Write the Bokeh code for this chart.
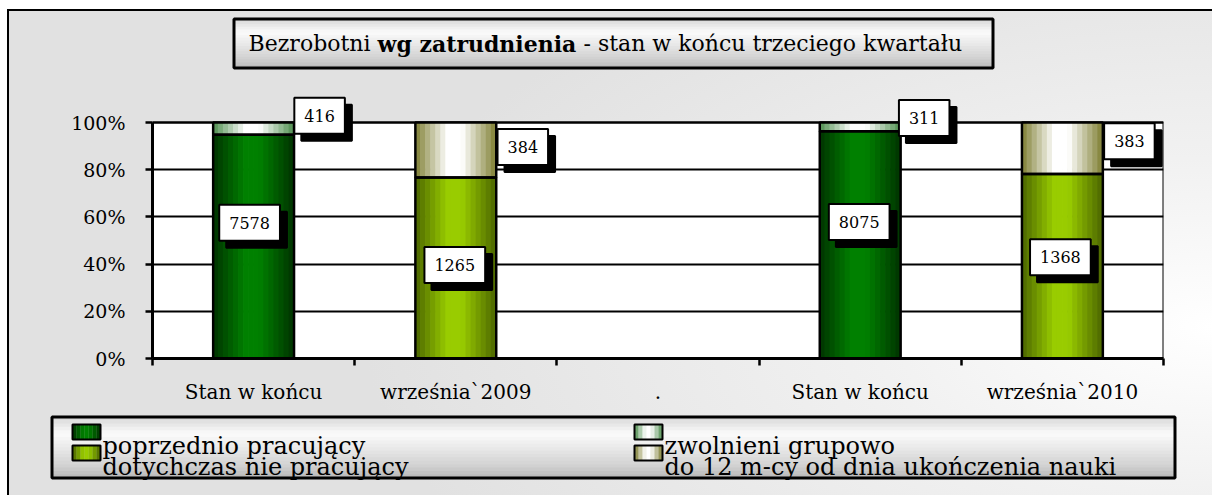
from bokeh.plotting import figure
from bokeh.models import FixedTicker, BoxAnnotation, Label, ColumnDataSource, Range1d
from bokeh.core.properties import value
from bokeh.embed import file_html
from bokeh.resources import INLINE

# ---------------- data ----------------
categories = ["Stan w końcu", "września`2009", ".", "Stan w końcu", "września`2010"]
series_names = ["poprzednio pracujący", "dotychczas nie pracujący",
                "zwolnieni grupowo", "do 12 m-cy od dnia ukończenia nauki"]
poprzednio = [7578, 0, 0, 8075, 0]
dotychczas = [0, 1265, 0, 0, 1368]
zwolnieni = [416, 0, 0, 311, 0]
do12 = [0, 384, 0, 0, 383]
y_ticks = [0, 20, 40, 60, 80, 100]
title_parts = ["Bezrobotni", "wg zatrudnienia", "- stan w końcu trzeciego kwartału"]

# ---------------- style ----------------
FONT = "DejaVu Serif"
W = 1212
H_TITLE, H_MAIN, H_LEG = 88, 324, 83
FL, FT, FR, FB = 152, 122, 1163, 358          # plot-area edges (page px)
FTOP = 90                                       # frame top (page px)
EDGE = ["#003300", "#4c6600", "#4f8f4f", "#7f7f33"]
CENTER = ["#008000", "#99cc00", "#ffffff", "#ffffff"]
BW = 0.4
NSTRIP = 16
LABEL_OFFSETS = {0: {0: (-4, 24), 3: (-1, 23)},
                 1: {1: (-1, 3), 4: (-2, 9)},
                 2: {0: (66, 13), 3: (64, 9)},
                 3: {1: (67, 3), 4: (67, 7)}}
STOPS = [(0.0, "#d6d6d6"), (0.28, "#fbfbfb"), (0.5, "#eaeaea"), (0.8, "#d2d2d2"), (1.0, "#b9b9b9")]
BG_CSS = ("linear-gradient(#000,#000) 7px 9px / 2px 100% no-repeat fixed, "
          "linear-gradient(#000,#000) 7px 9px / 100% 2px no-repeat fixed, "
          "linear-gradient(#fff,#fff) 0 0 / 7px 100% no-repeat fixed, "
          "linear-gradient(#fff,#fff) 0 0 / 100% 9px no-repeat fixed, "
          "radial-gradient(ellipse 70% 85% at 100% 66%, #ffffff 0%, #f1f1f1 40%, #e1e1e1 100%) fixed")


def hex2rgb(h):
    h = h.lstrip("#")
    return tuple(int(h[i:i + 2], 16) for i in (0, 2, 4))


def mix(c1, c2, t):
    a, b = hex2rgb(c1), hex2rgb(c2)
    return "#%02x%02x%02x" % tuple(int(round(a[i] + (b[i] - a[i]) * t)) for i in range(3))


def profile(t):
    if t < 0.40:
        return t / 0.40
    if t < 0.58:
        return 1.0
    return max(0.0, (1.0 - t) / 0.42)


def stop_color(f):
    for a in range(len(STOPS) - 1):
        if STOPS[a][0] <= f <= STOPS[a + 1][0]:
            tt = (f - STOPS[a][0]) / (STOPS[a + 1][0] - STOPS[a][0])
            return mix(STOPS[a][1], STOPS[a + 1][1], tt)
    return STOPS[-1][1]


def pixel_fig(height):
    f = figure(width=W, height=height, output_backend="svg", toolbar_location=None,
               x_range=Range1d(0, W), y_range=Range1d(height, 0),
               x_axis_type=None, y_axis_type=None,
               min_border=0, min_border_left=0, min_border_right=0,
               min_border_top=0, min_border_bottom=0)
    f.title.visible = False
    f.border_fill_color = None
    f.background_fill_color = None
    f.outline_line_color = None
    f.grid.visible = False
    f.styles = {"background": BG_CSS}
    return f


def grad_box(f, x0, x1, y0, y1, nb=18):
    hgt = (y1 - y0) / nb
    f.quad(left=[x0] * nb, right=[x1] * nb,
           top=[y0 + b * hgt - 0.3 for b in range(nb)],
           bottom=[y0 + (b + 1) * hgt + 0.3 for b in range(nb)],
           fill_color=[stop_color((b + 0.5) / nb) for b in range(nb)], line_color=None)
    f.quad(left=[x0], right=[x1], top=[y0], bottom=[y1], fill_color=None,
           line_color="black", line_width=3)


# ================= title figure =================
tf = pixel_fig(H_TITLE)
grad_box(tf, 233.5, 992.5, 18.5, 67.5)
TY = 43
tf.text(x=[370], y=[TY], text=[title_parts[0]], text_font=value(FONT), text_font_size="22px",
        text_align="right", text_baseline="middle", text_color="black")
tf.text(x=[377], y=[TY], text=[title_parts[1]], text_font=value(FONT), text_font_size="22px",
        text_font_style="bold", text_align="left", text_baseline="middle", text_color="black")
tf.text(x=[583], y=[TY], text=[title_parts[2]], text_font=value(FONT), text_font_size="22px",
        text_align="left", text_baseline="middle", text_color="black")

# ================= main figure =================
y_top = 100.0 * (FB - FTOP) / (FB - FT)
p = figure(width=W, height=H_MAIN, output_backend="svg", toolbar_location=None,
           x_range=Range1d(0.5, len(categories) + 0.5), y_range=Range1d(0, y_top),
           min_border_left=FL, min_border_top=FTOP - H_TITLE,
           min_border_right=W - FR, min_border_bottom=H_TITLE + H_MAIN - FB)
p.title.visible = False
p.border_fill_color = None
p.background_fill_color = None
p.outline_line_color = None
p.styles = {"background": BG_CSS}

# white plot area with black frame, below the grid
p.add_layout(BoxAnnotation(left=0.5, right=len(categories) + 0.5, bottom=0, top=100,
                           fill_color="white", fill_alpha=1, line_color="black",
                           line_width=2, line_alpha=1, level="image"))

p.xaxis.ticker = FixedTicker(ticks=list(range(1, len(categories) + 1)),
                             minor_ticks=[i + 0.5 for i in range(len(categories) + 1)])
p.xaxis.major_label_overrides = {i + 1: c for i, c in enumerate(categories)}
p.xaxis.major_tick_line_color = None
p.xaxis.major_tick_out = 0
p.xaxis.major_tick_in = 0
p.xaxis.minor_tick_out = 7
p.xaxis.minor_tick_in = 0
p.xaxis.minor_tick_line_width = 2.5
p.xaxis.minor_tick_line_color = "black"
p.xaxis.axis_line_width = 3
p.xaxis.axis_line_color = "black"
p.xaxis.major_label_standoff = 14
p.xaxis.major_label_text_font = FONT
p.xaxis.major_label_text_font_size = "20px"
p.xaxis.major_label_text_color = "black"

p.yaxis.ticker = FixedTicker(ticks=y_ticks, minor_ticks=[])
p.yaxis.bounds = (0, 100)
p.yaxis.major_label_overrides = {t: "%d%%" % t for t in y_ticks}
p.yaxis.major_tick_out = 7
p.yaxis.major_tick_in = 0
p.yaxis.major_tick_line_width = 2.5
p.yaxis.major_tick_line_color = "black"
p.yaxis.axis_line_width = 3
p.yaxis.axis_line_color = "black"
p.yaxis.major_label_standoff = 20
p.yaxis.major_label_text_font = FONT
p.yaxis.major_label_text_font_size = "19px"
p.yaxis.major_label_text_color = "black"

p.xgrid.visible = False
p.ygrid.ticker = FixedTicker(ticks=y_ticks)
p.ygrid.grid_line_color = "black"
p.ygrid.grid_line_width = 2
p.ygrid.grid_line_alpha = 1

# stacked percentages
stack = [poprzednio, dotychczas, zwolnieni, do12]
n = len(categories)
totals = [sum(s[i] for s in stack) for i in range(n)]
cum = [0.0] * n
bottoms, tops = [], []
for s in stack:
    b, t = [], []
    for i, v in enumerate(s):
        pct = 100.0 * v / totals[i] if totals[i] else 0.0
        b.append(cum[i])
        t.append(cum[i] + pct)
        cum[i] += pct
    bottoms.append(b)
    tops.append(t)

outline_sources = []
sw = BW / NSTRIP
for k, s in enumerate(stack):
    idx = [i for i in range(n) if s[i] > 0]
    src = ColumnDataSource(dict(x=[i + 1 for i in idx],
                                bottom=[bottoms[k][i] for i in idx],
                                top=[tops[k][i] for i in idx]))
    outline_sources.append(src)
    xs, bs, ts, cs = [], [], [], []
    for i in idx:
        for j in range(NSTRIP):
            xs.append(i + 1 - BW / 2 + (j + 0.5) * sw)
            bs.append(bottoms[k][i])
            ts.append(tops[k][i])
            cs.append(mix(EDGE[k], CENTER[k], profile((j + 0.5) / NSTRIP)))
    p.vbar(x=xs, bottom=bs, top=ts, width=sw * 1.15, fill_color=cs, line_color=None)

for src in outline_sources:
    p.vbar(x="x", bottom="bottom", top="top", width=BW, source=src,
           fill_color=None, line_color="black", line_width=2.5)

PAD = dict(left=10, right=10, top=12, bottom=12)
for k, s in enumerate(stack):
    for i in range(n):
        if s[i] <= 0:
            continue
        mid = (bottoms[k][i] + tops[k][i]) / 2.0
        dx, dy = LABEL_OFFSETS[k][i]
        common = dict(x=i + 1, y=mid, text=str(s[i]), text_font=FONT,
                      text_font_size="16px", text_align="center",
                      text_baseline="middle", padding=PAD, border_line_width=2)
        p.add_layout(Label(x_offset=dx + 7, y_offset=dy - 7, text_color="black",
                           background_fill_color="black", background_fill_alpha=1,
                           border_line_color="black", **common))
        p.add_layout(Label(x_offset=dx, y_offset=dy, text_color="black",
                           background_fill_color="white", background_fill_alpha=1,
                           border_line_color="black", **common))

# ================= legend figure =================
LY0 = H_TITLE + H_MAIN
lf = pixel_fig(H_LEG)
grad_box(lf, 51.5, 1174.5, 416.5 - LY0, 477.5 - LY0)
COL_X = [72, 634, 72, 634]
ROW_Y = [424, 424, 445, 445]
order = [0, 2, 1, 3]            # poprzednio, zwolnieni / dotychczas, do 12 m-cy
SWW, SWH, NS = 28, 15, 7
for slot, k in enumerate(order):
    x0, y0 = COL_X[slot], ROW_Y[slot] - LY0
    lf.quad(left=[x0 + j * SWW / NS for j in range(NS)],
            right=[x0 + (j + 1) * SWW / NS + 0.3 for j in range(NS)],
            top=[y0] * NS, bottom=[y0 + SWH] * NS,
            fill_color=[mix(EDGE[k], CENTER[k], profile((j + 0.5) / NS)) for j in range(NS)],
            line_color=None)
    lf.quad(left=[x0], right=[x0 + SWW], top=[y0], bottom=[y0 + SWH], fill_color=None,
            line_color="black", line_width=2)
    lf.text(x=[x0 + SWW + 2], y=[y0 + 21], text=[series_names[k]], text_font=value(FONT),
            text_font_size="24px", text_align="left", text_baseline="alphabetic",
            text_color="black")

open("out.html", "w").write(file_html([tf, p, lf], INLINE))
